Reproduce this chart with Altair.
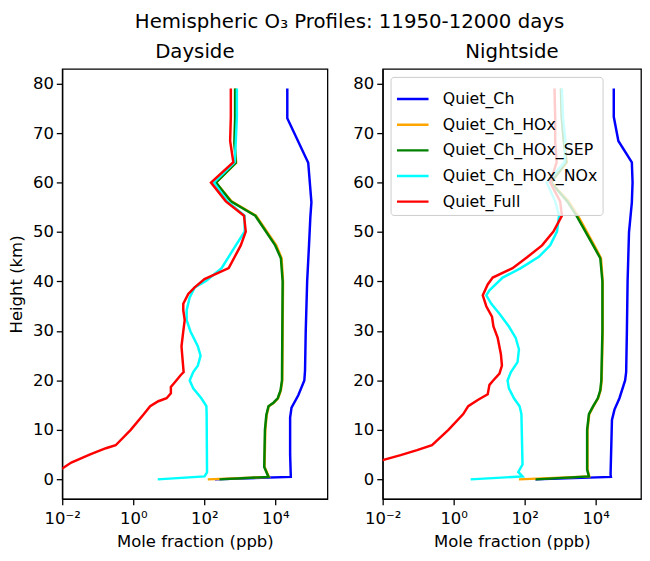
import altair as alt
import pandas as pd

series_names = ["Quiet_Ch", "Quiet_Ch_HOx", "Quiet_Ch_HOx_SEP", "Quiet_Ch_HOx_NOx", "Quiet_Full"]
series_colors = ["#0000ff", "#ffa500", "#008000", "#00ffff", "#ff0000"]

x_tick_values = [0.01, 1, 100, 10000]
x_tick_labels = ["10⁻²", "10⁰", "10²", "10⁴"]
y_tick_values = [0, 10, 20, 30, 40, 50, 60, 70, 80]

# ---------------- Dayside ----------------
day_ch_km = [0, 0.5, 5, 12.5, 14.5, 17, 20, 22, 30, 40, 47, 53, 56, 64, 73, 79]
day_ch_ppb = [200, 27500, 26300, 26300, 28800, 44700, 66100, 69200, 72400, 79400,
              89100, 97700, 104700, 85100, 21900, 21900]

day_hox_km = [0, 0.5, 2.5, 10, 13, 14.8, 15.5, 16.4, 18, 20, 30, 40, 44.7, 47.3, 53.3,
              56.2, 60, 64, 68, 73, 79]
day_hox_ppb = [126, 6610, 5010, 5250, 5750, 6610, 9120, 12020, 14450, 15850, 16200, 16600,
               15140, 10700, 2880, 589, 214, 794, 724, 759, 759]

day_sep_km = [0, 0.5, 2.5, 10, 13, 14.8, 15.5, 16.4, 18, 20, 30, 40, 44.7, 47.3, 53.3,
              56.2, 60, 64, 68, 73, 79]
day_sep_ppb = [269, 6460, 4900, 5130, 5620, 6460, 8910, 11750, 14100, 15500, 15850, 16200,
               14450, 10000, 2750, 562, 214, 776, 708, 741, 741]

day_nox_km = [0, 0.6, 1.4, 13.2, 14.8, 16.4, 18.4, 20, 21.7, 23, 25, 26.9, 29.9, 32.2, 34.2,
              36.8, 38.8, 40.1, 42.7, 47.3, 50.1, 53.3, 56.2, 60, 64.1, 68.4, 73.3, 79]
day_nox_ppb = [4.9, 102, 120, 117, 115, 83, 49, 39, 49, 66, 79, 66, 41, 32, 32,
               39, 54, 112, 309, 776, 1380, 1380, 457, 186, 724, 776, 832, 832]

day_full_km = [0, 0.5, 2.2, 3.4, 5.0, 6.3, 6.9, 10, 13.2, 14.8, 15.8, 16.4, 17.4, 18.7, 19.7,
               21.1, 21.7, 24.3, 26.9, 29.9, 32.2, 34.2, 35.5, 37.5, 38.8, 40.5, 42.7, 47.3,
               50.1, 53.3, 56.2, 60, 64.1, 68.4, 73.3, 79]
day_full_ppb = [0.0025, 0.004, 0.01, 0.018, 0.059, 0.17, 0.32, 0.85, 2.0, 3.0, 5.1, 8.7, 11.5,
                11.5, 15.1, 21.9, 26.3, 24.5, 22.9, 25.7, 28.2, 25.7, 25.7, 35.5, 53.7, 102,
                490, 1070, 1480, 1320, 407, 155, 661, 537, 562, 562]

# ---------------- Nightside ----------------
night_ch_km = [0, 0.5, 1, 12, 14.1, 16.4, 20, 21.7, 30, 40, 50, 56, 60, 64.1, 68.4, 73.3, 79]
night_ch_ppb = [200, 26900, 26300, 28800, 33900, 46800, 67600, 72400, 75900, 79400, 87100,
                104700, 109600, 104700, 43700, 32400, 32400]

night_hox_km = [0, 0.6, 2, 10, 13.2, 14.8, 16.4, 18, 20, 30, 40, 44.7, 47.3, 53.3, 56.2,
                60, 64.1, 68.4, 73.3, 79]
night_hox_ppb = [69, 6610, 5890, 5890, 6610, 8710, 11750, 13800, 14790, 15850, 15850, 14130,
                 9120, 3160, 1740, 562, 1550, 1320, 1150, 1100]

night_sep_km = [0, 0.6, 2, 10, 13.2, 14.8, 16.4, 18, 20, 30, 40, 44.7, 47.3, 53.3, 56.2,
                60, 64.1, 68.4, 73.3, 79]
night_sep_ppb = [204, 6460, 5750, 5750, 6460, 8510, 11500, 13500, 14450, 15500, 15500, 13500,
                 8510, 2880, 1585, 550, 1480, 1260, 1100, 1050]

night_nox_km = [0, 0.6, 1.5, 3.0, 13.2, 14.8, 16.4, 18.4, 20, 21.7, 23.7, 26.3, 28.6, 30.9,
                33.5, 35.5, 37.2, 38.2, 40.8, 42.7, 45, 47.3, 50.1, 53.3, 56.2, 60, 64.1,
                68.4, 73.3, 79]
night_nox_ppb = [3.0, 87, 66, 87, 81, 72, 50, 36, 33, 41, 63, 69, 56, 36, 19.5, 11.5, 8.3,
                 10.2, 24, 78, 251, 525, 813, 933, 724, 417, 1320, 1410, 1200, 1120]

night_full_km = [0, 0.5, 3.9, 4.9, 5.9, 6.9, 10, 13.2, 14.8, 16.1, 17.2, 19.1, 19.9, 21.4, 23,
                 25.3, 28.6, 30.9, 32.9, 35, 37.2, 39.4, 40.8, 42.7, 44.9, 47.3, 50.1, 53.3,
                 56.2, 60, 64.1, 68.4, 73.3, 79]
night_full_ppb = [0.001, 0.00126, 0.01, 0.032, 0.093, 0.245, 0.71, 1.86, 2.57, 4.9, 9.1, 10.2,
                  12.6, 19.5, 22.9, 21.4, 17.4, 13.2, 12.0, 8.3, 6.6, 9.1, 12.6, 45.7, 117,
                  309, 646, 1120, 1000, 525, 794, 724, 724, 692]

panels = {
    "Dayside": [(day_ch_km, day_ch_ppb), (day_hox_km, day_hox_ppb), (day_sep_km, day_sep_ppb),
                (day_nox_km, day_nox_ppb), (day_full_km, day_full_ppb)],
    "Nightside": [(night_ch_km, night_ch_ppb), (night_hox_km, night_hox_ppb),
                  (night_sep_km, night_sep_ppb), (night_nox_km, night_nox_ppb),
                  (night_full_km, night_full_ppb)],
}

rows = []
for panel, series in panels.items():
    for name, (hs, vs) in zip(series_names, series):
        for h, v in zip(hs, vs):
            rows.append({"panel": panel, "series": name, "height": h, "ppb": v})
df = pd.DataFrame(rows)

label_expr = " : ".join(
    f"datum.value < {v * 1.5} ? '{lab}'" for v, lab in zip(x_tick_values, x_tick_labels)
) + " : ''"

FONT = "DejaVu Sans"
TICK_FS = 16.7
TITLE_FS = 20


def panel_chart(panel_name, width, xmax, show_legend, y_title):
    legend = None
    if show_legend:
        legend = alt.Legend(
            title=None, orient="top-left", offset=8,
            fillColor="rgba(255,255,255,0.8)", strokeColor="#cccccc", cornerRadius=3,
            padding=5, symbolType="stroke", symbolStrokeWidth=2.5, symbolSize=1024,
            labelFontSize=16, labelFont=FONT, labelColor="black", labelOffset=13,
            labelLimit=400, rowPadding=0, symbolOpacity=1,
        )
    xaxis = alt.Axis(values=x_tick_values, labelExpr=label_expr, title="Mole fraction (ppb)",
                     labelFlush=False, labelOverlap=False, labelPadding=6, titlePadding=7,
                     grid=False)
    if y_title:
        yaxis = alt.Axis(values=y_tick_values, title=y_title, titlePadding=7, labelPadding=3,
                         grid=False)
    else:
        yaxis = alt.Axis(values=y_tick_values, title=None, labelPadding=3, grid=False)
    layers = []
    for name in series_names:
        layers.append(
            alt.Chart(df)
            .transform_filter((alt.datum.panel == panel_name) & (alt.datum.series == name))
            .mark_line(clip=True, strokeWidth=2.5)
            .encode(
                x=alt.X("ppb:Q", scale=alt.Scale(type="log", domain=[0.01, xmax], nice=False),
                        axis=xaxis),
                y=alt.Y("height:Q", scale=alt.Scale(domain=[-3.95, 82.95], nice=False,
                                                    zero=False), axis=yaxis),
                color=alt.Color("series:N",
                                scale=alt.Scale(domain=series_names, range=series_colors),
                                legend=legend),
                order=alt.Order("height:Q"),
            )
        )
    return alt.layer(*layers).properties(
        width=width, height=436,
        title=alt.TitleParams(text=panel_name, fontSize=TITLE_FS, offset=7, font=FONT,
                              fontWeight="normal", color="black"),
    )


left = panel_chart("Dayside", 269, 296500, False, "Height (km)")
right = panel_chart("Nightside", 262, 189700, True, None)

chart = (
    alt.hconcat(left, right, spacing=24)
    .resolve_legend(color="independent")
    .properties(
        title=alt.TitleParams(text="Hemispheric O₃ Profiles: 11950-12000 days",
                              fontSize=TITLE_FS, anchor="middle", offset=10, dx=25, font=FONT,
                              fontWeight="normal", color="black"),
        padding={"left": 0, "top": 0, "right": 0, "bottom": 0},
    )
    .configure_axis(domainColor="black", domainWidth=1.3, tickColor="black", tickWidth=1.3,
                    tickSize=6, labelFontSize=TICK_FS, labelFont=FONT, labelColor="black",
                    titleFontSize=TICK_FS, titleFont=FONT, titleColor="black",
                    titleFontWeight="normal")
    .configure_view(stroke="black", strokeWidth=1.3)
)

chart.save("out.html", embed_options={"renderer": "svg", "actions": False})
